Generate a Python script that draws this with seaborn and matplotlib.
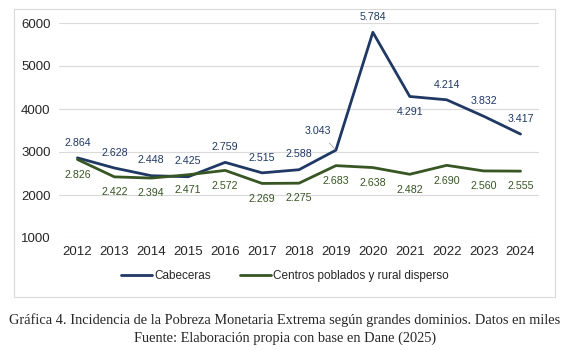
import matplotlib
matplotlib.use("Agg")
import matplotlib.pyplot as plt
import seaborn as sns
import pandas as pd
from matplotlib.patches import Rectangle
from matplotlib.lines import Line2D

years = [2012, 2013, 2014, 2015, 2016, 2017, 2018, 2019, 2020, 2021, 2022, 2023, 2024]
cabeceras = [2864, 2628, 2448, 2425, 2759, 2515, 2588, 3043, 5784, 4291, 4214, 3832, 3417]
centros = [2826, 2422, 2394, 2471, 2572, 2269, 2275, 2683, 2638, 2482, 2690, 2560, 2555]
series_names = ["Cabeceras", "Centros poblados y rural disperso"]
colors = ["#1F3864", "#375623"]
yticks = [1000, 2000, 3000, 4000, 5000, 6000]

def fmt(v):
    return f"{v/1000:.3f}"

df = pd.DataFrame({
    "year": years * 2,
    "value": cabeceras + centros,
    "serie": [series_names[0]] * len(years) + [series_names[1]] * len(years),
})

sns.set_theme(style="white")
plt.rcParams["font.family"] = ["Liberation Sans", "DejaVu Sans"]

fig = plt.figure(figsize=(5.7, 3.5), dpi=100)
ax = fig.add_axes([59/570, 1-238/350, (539-59)/570, (238-23)/350])

sns.lineplot(data=df, x="year", y="value", hue="serie", palette=colors,
             linewidth=2.0, ax=ax, legend=False)

ax.set_xlim(years[0]-0.5, years[-1]+0.5)
ax.set_ylim(1000, 6000)
ax.set_yticks(yticks)
ax.set_xticks(years)
ax.set_xticklabels([str(y) for y in years], fontsize=9.5)
ax.set_yticklabels([str(y) for y in yticks], fontsize=9.5)
ax.tick_params(axis="both", length=0, pad=6)
ax.grid(axis="y", color="#D9D9D9", linewidth=0.8)
ax.set_axisbelow(True)
for s in ax.spines.values():
    s.set_visible(False)
ax.set_xlabel("")
ax.set_ylabel("")

# data labels
for y, v in zip(years, cabeceras):
    if y == 2019:
        ax.annotate(fmt(v), xy=(y, v), xytext=(-13, 14), textcoords="offset points",
                    ha="center", va="center", fontsize=7.7, color=colors[0],
                    arrowprops=dict(arrowstyle="-", color="#A6A6A6", lw=0.6, shrinkA=4, shrinkB=1))
    elif y == 2021:
        ax.annotate(fmt(v), xy=(y, v), xytext=(0, -11), textcoords="offset points",
                    ha="center", va="center", fontsize=7.7, color=colors[0])
    else:
        ax.annotate(fmt(v), xy=(y, v), xytext=(0, 11), textcoords="offset points",
                    ha="center", va="center", fontsize=7.7, color=colors[0])
for y, v in zip(years, centros):
    ax.annotate(fmt(v), xy=(y, v), xytext=(0, -11), textcoords="offset points",
                ha="center", va="center", fontsize=7.7, color=colors[1])

# legend
handles = [Line2D([0], [0], color=c, lw=2) for c in colors]
fig.legend(handles, series_names, loc="center", bbox_to_anchor=(0.5, 1-276/350),
           ncol=2, frameon=False, fontsize=8.5, handlelength=2.6, handletextpad=0.2,
           columnspacing=2.5)

# chart border
fig.patches.append(Rectangle((14/570, 1-297/350), (555-14)/570, (297-9)/350,
                             transform=fig.transFigure, fill=False,
                             edgecolor="#D9D9D9", linewidth=0.8))

fig.text(0.5, 1-320/350, "Gráfica 4. Incidencia de la Pobreza Monetaria Extrema según grandes dominios. Datos en miles",
         ha="center", va="center", fontsize=10.4, family=["Liberation Serif", "DejaVu Serif"])
fig.text(0.5, 1-338/350, "Fuente: Elaboración propia con base en Dane (2025)",
         ha="center", va="center", fontsize=10.4, family=["Liberation Serif", "DejaVu Serif"])

fig.savefig("out.png", dpi=100)
